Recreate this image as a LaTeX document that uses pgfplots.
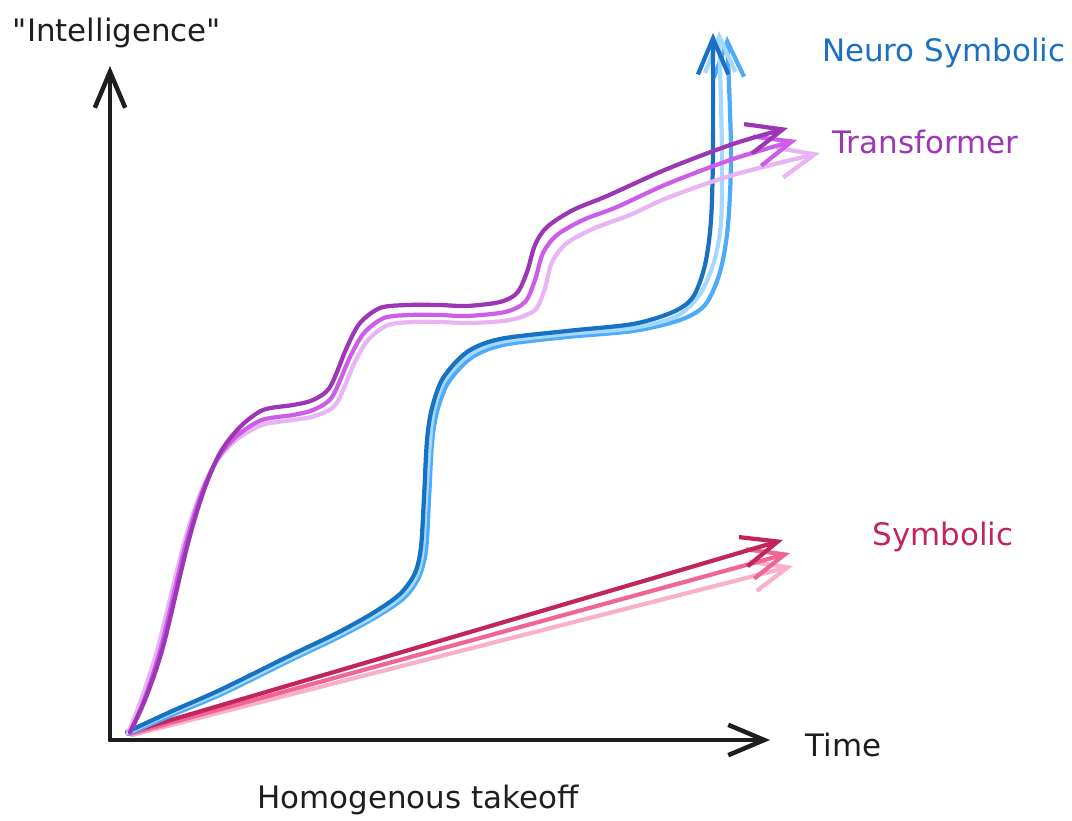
\documentclass[border=0pt]{standalone}
\usepackage{fontspec}
\setmainfont{DejaVu Sans}
\usepackage{pgfplots}
\pgfplotsset{compat=1.18}
\usetikzlibrary{arrows.meta}

\definecolor{ink}{HTML}{1E1E1E}
\definecolor{grapeD}{HTML}{9C36B5}
\definecolor{grapeM}{HTML}{CC5DE8}
\definecolor{grapeL}{HTML}{E8B4F6}
\definecolor{blueD}{HTML}{1971C2}
\definecolor{blueM}{HTML}{4DABF7}
\definecolor{blueL}{HTML}{A5D8FF}
\definecolor{pinkD}{HTML}{C2255C}
\definecolor{pinkM}{HTML}{F06595}
\definecolor{pinkL}{HTML}{FAB0CA}

\begin{document}
\begin{tikzpicture}
\begin{axis}[
  width=13.4cm, height=10.2625cm, scale only axis,
  xmin=0, xmax=1072, ymin=0, ymax=821,
  y dir=reverse,
  hide axis, clip=false,
  every axis plot/.append style={line width=1.5pt, line cap=round, line join=round,
    -{Straight Barb[length=0.45cm,width=0.38cm]}},
  font=\fontsize{11}{13}\selectfont,
]
\coordinate (bl) at (axis cs:0,821);
\coordinate (tr) at (axis cs:1072,0);

% axes
\addplot[ink, line width=1.6pt] coordinates {(110,740) (110,66)};
\addplot[ink, line width=1.6pt] coordinates {(110,740) (770,740)};

% symbolic
\addplot[pinkL] coordinates {(132,735) (793,566)};
\addplot[pinkM] coordinates {(130,734) (790,553)};
\addplot[pinkD] coordinates {(130,732) (783,540)};

% neuro symbolic
\addplot[blueM, smooth, tension=0.5] coordinates {
  (128,734) (172,715) (222,694) (289,661) (339,637) (376,617) (404,598)
  (419,577) (426,550) (429,500) (432,443) (437,412) (448,383) (471,358)
  (503,345) (567,337) (633,331) (680,320) (705,305) (720,272) (728,225)
  (731,150) (727,36)};
\addplot[blueL, smooth, tension=0.5] coordinates {
  (127,733) (171,713) (221,692) (288,659) (338,635) (375,615) (402,596)
  (417,575) (423,548) (426,498) (430,441) (434,410) (445,380) (469,355)
  (501,342) (567,334) (633,328) (677,316) (700,294) (714,262) (721,222)
  (722,150) (719,31)};
\addplot[blueD, smooth, tension=0.5] coordinates {
  (127,732) (170,712) (220,690) (287,657) (337,633) (373,613) (400,594)
  (415,573) (421,547) (424,497) (427,440) (432,408) (443,378) (467,352)
  (500,339) (567,331) (633,324) (673,312) (693,297) (705,265) (711,220)
  (713,150) (713,33)};

% transformer
\addplot[grapeL, smooth, tension=0.5] coordinates {
  (128,733) (141,700) (158,647) (183,547) (199,497) (216,462) (236,440)
  (262,425) (293,420) (315,416) (336,404) (354,364) (368,340) (388,325)
  (414,322) (440,322) (470,323) (510,320) (535,310) (545,288) (552,262)
  (567,243) (595,228) (630,215) (667,198) (733,175) (820,153)};
\addplot[grapeM, smooth, tension=0.5] coordinates {
  (130,733) (144,700) (161,647) (185,547) (201,495) (218,458) (238,435)
  (262,420) (293,415) (313,410) (332,397) (350,357) (364,333) (384,318)
  (410,315) (440,315) (467,316) (505,312) (525,302) (535,280) (543,253)
  (557,235) (583,220) (617,207) (667,184) (733,159) (797,140)};
\addplot[grapeD, smooth, tension=0.5] coordinates {
  (130,732) (145,700) (163,647) (187,547) (203,493) (220,453) (240,427)
  (263,410) (293,405) (313,400) (330,387) (347,347) (360,323) (380,308)
  (407,305) (440,305) (467,306) (500,302) (517,293) (527,272) (535,245)
  (547,227) (573,210) (607,196) (667,169) (733,144) (788,128)};

% labels
\node[ink, inner sep=0pt] at (axis cs:117,33) {\textquotedbl Intelligence\textquotedbl};
\node[blueD, anchor=east, inner sep=0pt] at (axis cs:1066,53) {Neuro Symbolic};
\node[grapeD, anchor=west, inner sep=0pt] at (axis cs:832,142) {Transformer};
\node[pinkD, anchor=west, inner sep=0pt] at (axis cs:872,537) {Symbolic};
\node[ink, anchor=west, inner sep=0pt] at (axis cs:805,745) {Time};
\node[ink, inner sep=0pt] at (axis cs:418,800) {Homogenous takeoff};
\end{axis}
\pgfresetboundingbox
\path (bl) rectangle (tr);
\end{tikzpicture}
\end{document}
